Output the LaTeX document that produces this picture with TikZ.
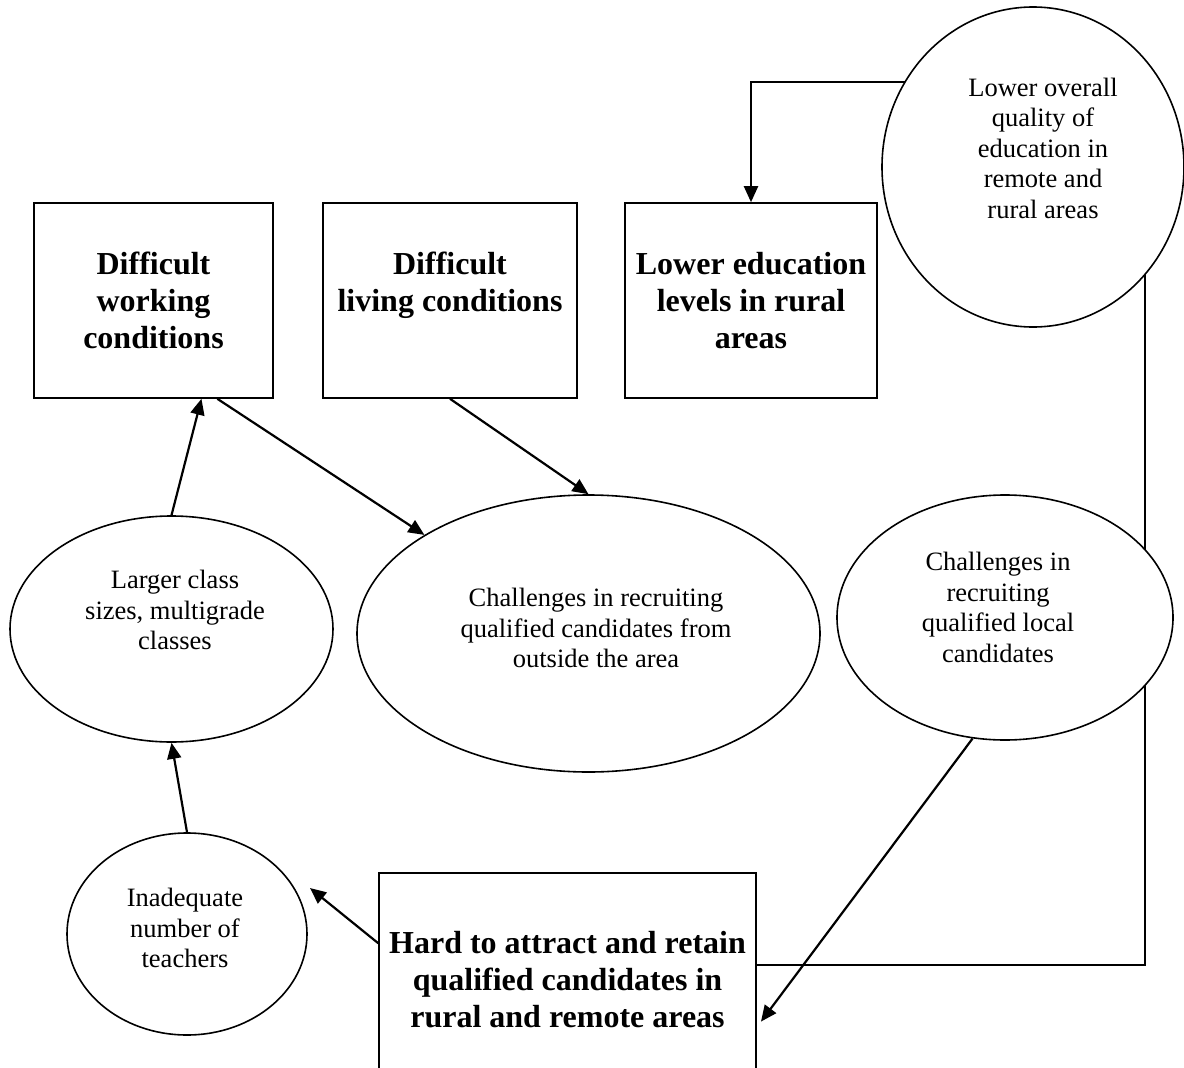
\documentclass[tikz,border=0pt]{standalone}
\usepackage{fontspec}
\setmainfont{Liberation Serif}
\usetikzlibrary{arrows.meta,backgrounds,shapes.geometric}
\begin{document}
\begin{tikzpicture}[x=1pt,y=-1pt,
  box/.style={draw,line width=1.6pt,fill=white,rectangle,inner sep=0pt,align=center,font=\bfseries\fontsize{32}{37}\selectfont},
  ell/.style={draw,line width=1.6pt,fill=white,ellipse,inner sep=0pt},
  lbl/.style={align=center,font=\fontsize{26.5}{30.5}\selectfont},
  conn/.style={line width=2.2pt},
  arr/.style={conn,-{Triangle[length=16pt,width=14pt]}}]
\useasboundingbox (0,0) rectangle (1184,1068);
\clip (0,0) rectangle (1184,1068);

\node[box,minimum width=239pt,minimum height=195pt] (work) at (153.5,300.5) {Difficult\\working\\conditions};
\node[box,minimum width=254pt,minimum height=195pt] (live) at (450,300.5) {Difficult\\living conditions\\\mbox{}};
\node[box,minimum width=252pt,minimum height=195pt] (edu) at (751,300.5) {Lower education\\levels in rural\\areas};
\node[ell,minimum width=302pt,minimum height=320pt,
  label={[lbl,xshift=10pt,yshift=19pt]center:{Lower overall\\quality of\\education in\\remote and\\rural areas}}] (qual) at (1033,167) {};
\node[ell,minimum width=323pt,minimum height=226pt,
  label={[lbl,xshift=3.5pt,yshift=19pt]center:{Larger class\\sizes, multigrade\\classes}}] (large) at (171.5,629) {};
\node[ell,minimum width=463pt,minimum height=277pt,
  label={[lbl,xshift=7.5pt,yshift=5.5pt]center:{Challenges in recruiting\\qualified candidates from\\outside the area}}] (out) at (588.5,633.5) {};
\node[ell,minimum width=336pt,minimum height=245pt,
  label={[lbl,xshift=-7pt,yshift=10pt]center:{Challenges in\\recruiting\\qualified local\\candidates}}] (local) at (1005,617.5) {};
\node[ell,minimum width=240pt,minimum height=202pt,
  label={[lbl,xshift=-2pt,yshift=6pt]center:{Inadequate\\number of\\teachers}}] (inad) at (187,934) {};
\node[box,minimum width=377pt,minimum height=214pt] (hard) at (567.5,980) {Hard to attract and retain\\qualified candidates in\\rural and remote areas};

\coordinate (inadtip) at (310,888);
\coordinate (rc) at (1145,965);
\coordinate (qc) at (751,82);

\begin{scope}[on background layer]
\draw[arr] (work.-57) -- (out.149);
\draw[arr] (large.north) -- (work.-64);
\draw[arr] (live.south) -- (out.north);
\draw[arr] (inad.north) -- (large.south);
\draw[arr] (hard.169) -- (inadtip);
\draw[arr,shorten >=7pt] (local.255) -- (hard.-14);
\draw[conn] (hard.east |- rc) -- (rc) -- (rc |- qual.center);
\draw[arr] (qual.center |- qc) -| (edu.north);
\end{scope}
\end{tikzpicture}
\end{document}
